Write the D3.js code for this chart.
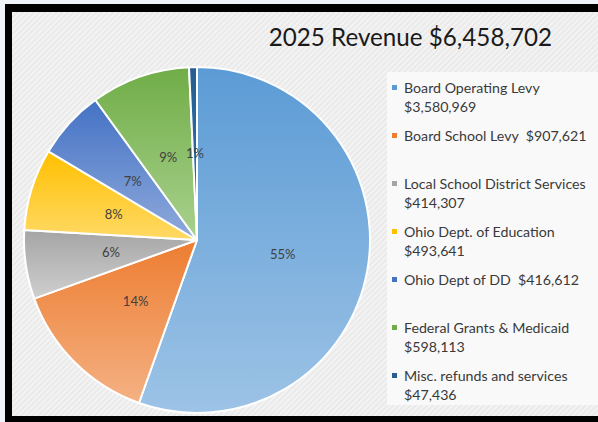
<!DOCTYPE html>
<html><head><meta charset="utf-8">
<script src="https://cdn.jsdelivr.net/npm/d3@7"></script>
<style>html,body{margin:0;padding:0;background:#eef4fa;overflow:hidden}</style>
</head><body>
<script>
const title = "2025 Revenue $6,458,702";
const categories = ["Board Operating Levy","Board School Levy","Local School District Services","Ohio Dept. of Education","Ohio Dept of DD","Federal Grants & Medicaid","Misc. refunds and services"];
const values = [3580969, 907621, 414307, 493641, 416612, 598113, 47436];
const legendLines = [
  ["Board Operating Levy","$3,580,969"],
  ["Board School Levy  $907,621"],
  ["Local School District Services","$414,307"],
  ["Ohio Dept. of Education","$493,641"],
  ["Ohio Dept of DD  $416,612"],
  ["Federal Grants & Medicaid","$598,113"],
  ["Misc. refunds and services","$47,436"]
];
const colorsTop = ["#5b9bd5","#ed7d31","#a5a5a5","#ffc000","#4472c4","#70ad47","#255e91"];
const colorsBottom = ["#9dc3e6","#f4b183","#cfcfcf","#ffd966","#8faadc","#a9d18e","#2e75b6"];

const W=598,H=422;
const svg=d3.select("body").append("svg").attr("width",W).attr("height",H);
const defs=svg.append("defs");
const pat=defs.append("pattern").attr("id","hatch").attr("width",4).attr("height",4)
  .attr("patternUnits","userSpaceOnUse").attr("patternTransform","rotate(45)");
pat.append("rect").attr("width",4).attr("height",4).attr("fill","#f3f3f3");
pat.append("rect").attr("width",1.5).attr("height",4).attr("fill","#e7e7e7");
colorsTop.forEach((c,i)=>{
  const g=defs.append("linearGradient").attr("id","g"+i).attr("x1",0).attr("y1",0).attr("x2",0).attr("y2",1);
  g.append("stop").attr("offset","0%").attr("stop-color",c);
  g.append("stop").attr("offset","100%").attr("stop-color",colorsBottom[i]);
});

// frame
svg.append("rect").attr("x",5).attr("y",4).attr("width",W).attr("height",H).attr("fill","#000");
svg.append("rect").attr("x",12).attr("y",12).attr("width",W).attr("height",404).attr("fill","url(#hatch)");

// legend box
svg.append("rect").attr("x",387).attr("y",72).attr("width",W-387).attr("height",333).attr("fill","#f9f9f9");

// title
svg.append("text").attr("x",552).attr("y",46).attr("text-anchor","end")
  .attr("font-family","Lato, 'Open Sans', sans-serif").attr("font-size",24.2).attr("fill","#1a1a1a")
  .text(title);

// percentages by largest remainder so they sum to 100
const total=d3.sum(values);
const raw=values.map(v=>v/total*100);
const pct=raw.map(Math.floor);
let left=100-d3.sum(pct);
raw.map((r,i)=>[r-Math.floor(r),i]).sort((a,b)=>b[0]-a[0]).slice(0,left).forEach(([,i])=>pct[i]++);

// pie
const cx=197, cy=240, R=173;
const pie=d3.pie().sort(null).value(d=>d)(values);
const arc=d3.arc().innerRadius(0).outerRadius(R);
const labelArc=d3.arc().innerRadius(87).outerRadius(87);
const g=svg.append("g").attr("transform",`translate(${cx},${cy})`);
g.selectAll("path").data(pie).join("path")
  .attr("d",arc).attr("fill",(d,i)=>"url(#g"+i+")")
  .attr("stroke","#fff").attr("stroke-width",2).attr("stroke-linejoin","round");
g.selectAll("text.pl").data(pie).join("text").attr("class","pl")
  .attr("transform",d=>`translate(${labelArc.centroid(d)})`)
  .attr("text-anchor","middle").attr("dy","0.35em")
  .attr("font-family","Lato, 'Open Sans', sans-serif").attr("font-size",13).attr("fill","#404040")
  .text((d,i)=>pct[i]+"%");

// legend
const lg=svg.append("g");
legendLines.forEach((lines,i)=>{
  const y=88+48*i;
  lg.append("rect").attr("x",392).attr("y",y-3).attr("width",5).attr("height",5).attr("fill",colorsTop[i]);
  lines.forEach((t,j)=>{
    lg.append("text").attr("x",404).attr("y",y+19*j).attr("dy","0.35em")
      .attr("font-family","Lato, 'Open Sans', sans-serif").attr("font-size",14.2).attr("fill","#3a3a3a")
      .attr("xml:space","preserve").style("white-space","pre").text(t);
  });
});
</script>
</body></html>
